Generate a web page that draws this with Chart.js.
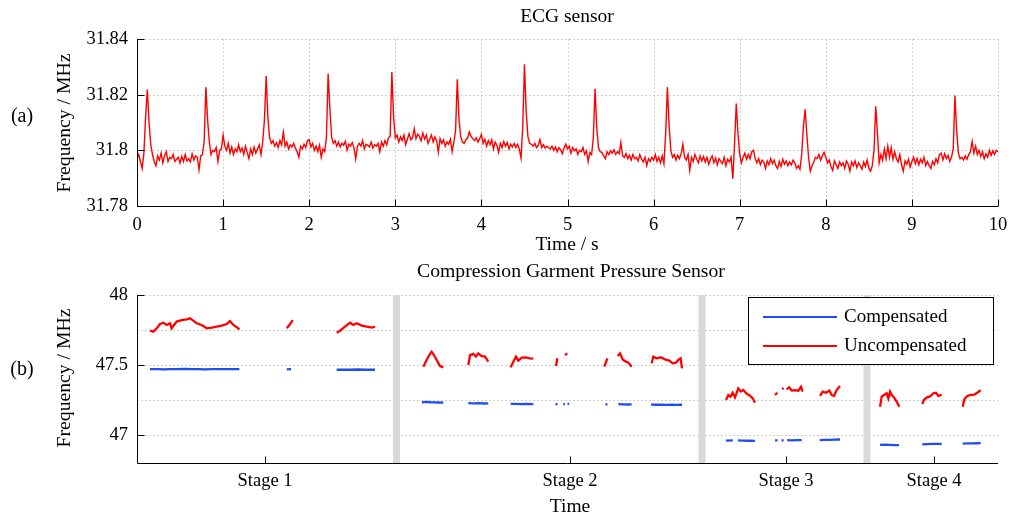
<!DOCTYPE html>
<html>
<head>
<meta charset="utf-8">
<title>ECG sensor / Compression Garment Pressure Sensor</title>
<script src="https://cdn.jsdelivr.net/npm/chart.js@4.4.1/dist/chart.umd.min.js"></script>
<style>
  html, body { margin: 0; padding: 0; background: #fff; }
  #wrap { position: relative; width: 1010px; height: 516px; }
  canvas { position: absolute; left: 0; display: block; }
  #ecgChart { top: 0; }
  #pressChart { top: 258px; }
</style>
</head>
<body>
<div id="wrap">
  <canvas id="ecgChart" width="1010" height="258"></canvas>
  <canvas id="pressChart" width="1010" height="258"></canvas>
</div>
<script>
// ----------------- (a) ECG sensor -----------------
const ecgStep = 0.02; // seconds between samples, starts at t = 0
const ecgMHz = [
  31.797, 31.7985, 31.796, 31.7935, 31.799, 31.812, 31.8218, 31.810, 31.802, 31.7985,
  31.796, 31.7945, 31.798, 31.7965, 31.799, 31.7955, 31.798, 31.7995, 31.796, 31.7975,
  31.797, 31.7985, 31.796, 31.7968, 31.7975, 31.7955, 31.7978, 31.796, 31.7985, 31.7962,
  31.797, 31.7958, 31.7988, 31.7965, 31.798, 31.7975, 31.793, 31.798, 31.7985, 31.803,
  31.8227, 31.811, 31.803, 31.7985, 31.800, 31.7995, 31.801, 31.796, 31.800, 31.8005,
  31.8054, 31.8015, 31.800, 31.8025, 31.799, 31.8012, 31.7985, 31.8005, 31.7995, 31.802,
  31.7995, 31.8008, 31.7985, 31.8015, 31.7992, 31.797, 31.8005, 31.7985, 31.8012, 31.799,
  31.8005, 31.802, 31.7985, 31.803, 31.811, 31.8267, 31.812, 31.8045, 31.8025, 31.8035,
  31.8015, 31.8028, 31.801, 31.8035, 31.802, 31.8065, 31.8015, 31.803, 31.8005, 31.802,
  31.8012, 31.8025, 31.8008, 31.7995, 31.7975, 31.8015, 31.8005, 31.8022, 31.801, 31.8035,
  31.8038, 31.8012, 31.8025, 31.800, 31.8015, 31.7995, 31.8018, 31.7975, 31.8005, 31.7995,
  31.8045, 31.8275, 31.815, 31.8048, 31.8025, 31.8035, 31.8015, 31.803, 31.8012, 31.8025,
  31.8018, 31.8032, 31.800, 31.8022, 31.8015, 31.8028, 31.801, 31.7969, 31.8015, 31.8025,
  31.8015, 31.8035, 31.8005, 31.8022, 31.8018, 31.8012, 31.803, 31.8008, 31.802, 31.8015,
  31.8025, 31.7995, 31.803, 31.8015, 31.8035, 31.802, 31.8045, 31.805, 31.8281, 31.812,
  31.8045, 31.8055, 31.803, 31.8048, 31.8035, 31.8055, 31.802, 31.804, 31.806, 31.8038,
  31.8045, 31.8078, 31.8042, 31.8058, 31.805, 31.8035, 31.8062, 31.804, 31.8055, 31.8025,
  31.804, 31.8055, 31.803, 31.8048, 31.8035, 31.7993, 31.8042, 31.8025, 31.8038, 31.8015,
  31.803, 31.8022, 31.804, 31.7995, 31.803, 31.807, 31.8255, 31.811, 31.8048, 31.803,
  31.8025, 31.8038, 31.8045, 31.8066, 31.805, 31.8042, 31.8035, 31.8045, 31.803, 31.8042,
  31.8057, 31.8025, 31.804, 31.8015, 31.8035, 31.802, 31.8038, 31.8005, 31.803, 31.8018,
  31.7993, 31.8025, 31.801, 31.8032, 31.8015, 31.8028, 31.8005, 31.8022, 31.8012, 31.8025,
  31.801, 31.8022, 31.8005, 31.7972, 31.808, 31.8309, 31.814, 31.805, 31.8025, 31.8022,
  31.8015, 31.8025, 31.801, 31.8018, 31.8039, 31.801, 31.802, 31.8008, 31.8015, 31.801,
  31.8005, 31.8015, 31.800, 31.8012, 31.7995, 31.801, 31.8002, 31.7988, 31.8008, 31.8022,
  31.8005, 31.8015, 31.799, 31.801, 31.7998, 31.8005, 31.7985, 31.800, 31.7995, 31.801,
  31.7985, 31.7998, 31.796, 31.7992, 31.7985, 31.8045, 31.8221, 31.808, 31.801, 31.7995,
  31.7992, 31.798, 31.797, 31.7995, 31.7985, 31.7998, 31.799, 31.8002, 31.7985, 31.7995,
  31.7988, 31.8028, 31.798, 31.7975, 31.7988, 31.797, 31.7982, 31.7965, 31.7985, 31.797,
  31.7975, 31.7962, 31.7985, 31.7968, 31.7958, 31.7975, 31.7945, 31.797, 31.796, 31.7975,
  31.7965, 31.7985, 31.796, 31.7975, 31.7955, 31.798, 31.7952, 31.806, 31.8227, 31.809,
  31.800, 31.7975, 31.7985, 31.7965, 31.7982, 31.797, 31.7988, 31.8022, 31.7975, 31.7965,
  31.7985, 31.7928, 31.7975, 31.796, 31.7985, 31.797, 31.7955, 31.798, 31.7962, 31.7978,
  31.7958, 31.7975, 31.795, 31.7968, 31.798, 31.7955, 31.7972, 31.7948, 31.797, 31.796,
  31.7952, 31.7975, 31.7945, 31.7968, 31.7958, 31.7975, 31.7898, 31.802, 31.8168, 31.806,
  31.7985, 31.7955, 31.7975, 31.799, 31.7968, 31.7985, 31.797, 31.7995, 31.800, 31.797,
  31.7955, 31.797, 31.7948, 31.7965, 31.7958, 31.7935, 31.7962, 31.7948, 31.797, 31.7952,
  31.7965, 31.7945, 31.7935, 31.796, 31.7942, 31.7968, 31.795, 31.7962, 31.7945, 31.7958,
  31.7948, 31.7965, 31.7955, 31.7935, 31.7945, 31.7932, 31.7985, 31.8085, 31.8147, 31.8055,
  31.7975, 31.7925, 31.7945, 31.7958, 31.7975, 31.797, 31.7985, 31.7965, 31.798, 31.7993,
  31.7975, 31.7955, 31.7965, 31.7942, 31.7928, 31.7962, 31.7948, 31.7935, 31.7958, 31.7945,
  31.7955, 31.7935, 31.7962, 31.795, 31.7925, 31.7958, 31.7945, 31.7962, 31.7938, 31.7955,
  31.7945, 31.7932, 31.7958, 31.7942, 31.7965, 31.7935, 31.7925, 31.7945, 31.800, 31.8158,
  31.806, 31.7955, 31.7985, 31.7965, 31.8005, 31.797, 31.8015, 31.7975, 31.801, 31.7968,
  31.7995, 31.797, 31.7958, 31.7985, 31.7948, 31.7925, 31.7962, 31.795, 31.7968, 31.794,
  31.796, 31.7975, 31.7952, 31.797, 31.7948, 31.7968, 31.7955, 31.7975, 31.7945, 31.796,
  31.7945, 31.7935, 31.796, 31.7948, 31.797, 31.7955, 31.7985, 31.799, 31.7965, 31.7988,
  31.797, 31.7982, 31.796, 31.7975, 31.8005, 31.8197, 31.807, 31.799, 31.797, 31.7975,
  31.7965, 31.798, 31.7968, 31.7985, 31.7995, 31.8032, 31.799, 31.8015, 31.7985, 31.800,
  31.7978, 31.7995, 31.797, 31.7988, 31.7975, 31.800, 31.7982, 31.7998, 31.7985, 31.800,
  31.7995
];
const ecgXTicks = [0, 1, 2, 3, 4, 5, 6, 7, 8, 9, 10];
const ecgYTicks = [31.78, 31.8, 31.82, 31.84];

// ----------------- (b) pressure sensor -----------------
// time axis is unitless (0..100), null = no reading
const uncompTime = [
  1.51, 1.90, 2.29, 2.67, 3.06, 3.45, 3.83, 4.03, 4.30, 4.61, 5.19, 5.77, 6.16, 6.54, 6.93, 7.51, 8.09, 8.68, 9.26, 9.83, 10.42, 10.80, 11.19, 11.65, 11.89, 14,
  17.4, 17.7, 18.1, 20,
  23.19, 23.58, 24.16, 24.74, 25.12, 25.51, 26.10, 26.68, 27.26, 27.64, 31,
  33.26, 33.64, 33.95, 34.22, 34.49, 34.80, 35.19, 35.58, 37,
  38.48, 38.68, 39.06, 39.37, 39.64, 40.03, 40.42, 40.80, 42,
  43.40, 43.71, 44.02, 44.29, 44.68, 45.18, 45.64, 46.03, 47,
  48.66, 48.82, 49.3, 49.71, 49.98, 52,
  54.28, 54.63, 55.2, 55.83, 56.10, 56.41, 56.79, 57.07, 57.45, 58.5,
  59.78, 59.97, 60.36, 60.82, 61.32, 61.82, 62.21, 62.60, 62.91, 63.14, 63.30, 66,
  68.41, 68.68, 68.95, 69.18, 69.45, 69.84, 70.12, 70.42, 70.81, 71.20, 71.51, 71.78, 73,
  74.10, 74.37, 74.7, 74.92, 75.02, 75.2, 75.46, 75.76, 76.04, 76.42, 76.81, 77.12, 77.31, 78.5,
  79.33, 79.64, 80.02, 80.41, 80.68, 80.95, 81.26, 81.65, 84,
  86.30, 86.49, 86.76, 87.07, 87.26, 87.46, 87.65, 87.92, 88.23, 88.54, 90,
  91.21, 91.44, 91.79, 92.18, 92.49, 92.80, 93.07, 93.46, 95,
  95.90, 96.09, 96.44, 96.83, 97.21, 97.60, 97.99
];
const uncompMHz = [
  47.745, 47.738, 47.762, 47.793, 47.802, 47.786, 47.798, 47.762, 47.786, 47.810, 47.821, 47.826, 47.833, 47.817, 47.798, 47.786, 47.762, 47.767, 47.774, 47.781, 47.793, 47.814, 47.786, 47.767, 47.755, null,
  47.762, 47.786, 47.821, null,
  47.731, 47.745, 47.774, 47.802, 47.786, 47.798, 47.781, 47.774, 47.767, 47.774, null,
  47.488, 47.536, 47.571, 47.595, 47.571, 47.536, 47.493, 47.483, null,
  47.500, 47.571, 47.579, 47.560, 47.583, 47.564, 47.560, 47.524, null,
  47.483, 47.524, 47.560, 47.531, 47.552, 47.555, 47.548, 47.545, null,
  47.493, 47.548, null, 47.571, 47.583, null,
  47.488, 47.548, null, 47.564, 47.583, 47.540, 47.524, 47.517, 47.488, null,
  47.512, 47.560, 47.548, 47.555, 47.540, 47.531, 47.512, 47.517, 47.540, 47.548, 47.476, null,
  47.250, 47.286, 47.274, 47.302, 47.269, 47.333, 47.310, 47.321, 47.295, 47.281, 47.262, 47.231, null,
  47.286, 47.302, null, 47.333, 47.336, null, 47.326, 47.340, 47.317, 47.321, 47.317, 47.345, 47.310, null,
  47.279, 47.310, 47.302, 47.317, 47.286, 47.279, 47.321, 47.350, null,
  47.202, 47.274, 47.286, 47.298, 47.262, 47.310, 47.286, 47.269, 47.238, 47.202, null,
  47.221, 47.255, 47.269, 47.279, 47.298, 47.302, 47.279, 47.286, null,
  47.202, 47.255, 47.279, 47.286, 47.288, 47.302, 47.321
];
const compTime = [
  1.51, 2.3, 3.1, 3.9, 4.7, 5.5, 6.3, 7.1, 7.9, 8.7, 9.5, 10.3, 11.1, 11.89, 14,
  17.4, 17.9, 20,
  23.19, 24.0, 24.8, 25.6, 26.4, 27.2, 27.64, 31,
  33.1, 33.6, 34.1, 34.6, 35.1, 35.58, 37,
  38.48, 39.1, 39.7, 40.3, 40.8, 42,
  43.40, 44.0, 44.6, 45.2, 45.8, 46.03, 47,
  48.6, 48.85, 49.2, 49.5, 49.7, 49.85, 50.0, 50.2, 52,
  54.4, 54.65, 55.2, 55.9, 56.5, 57.1, 57.45, 58.5,
  59.7, 60.3, 60.9, 61.5, 62.1, 62.7, 63.3, 66,
  68.4, 69.2, 69.5, 69.8, 70.4, 71.0, 71.78, 73,
  74.1, 74.4, 74.65, 74.85, 75.1, 75.3, 75.5, 76.0, 76.6, 77.2, 78.5,
  79.3, 79.9, 80.5, 81.1, 81.65, 84,
  86.3, 86.9, 87.5, 88.0, 88.5, 90,
  91.2, 91.8, 92.4, 93.0, 93.46, 95,
  95.9, 96.5, 97.1, 97.6, 97.99
];
const compMHz = [
  47.470, 47.471, 47.469, 47.471, 47.470, 47.472, 47.470, 47.471, 47.469, 47.471, 47.470, 47.471, 47.470, 47.471, null,
  47.468, 47.471, null,
  47.466, 47.467, 47.466, 47.468, 47.466, 47.467, 47.466, null,
  47.234, 47.236, 47.234, 47.233, 47.232, 47.231, null,
  47.227, 47.226, 47.227, 47.225, 47.226, null,
  47.222, 47.223, 47.221, 47.222, 47.221, 47.221, null,
  47.221, 47.221, null, 47.221, 47.221, null, 47.222, 47.222, null,
  47.219, 47.219, null, 47.220, 47.219, 47.218, 47.219, null,
  47.217, 47.216, 47.217, 47.215, 47.216, 47.215, 47.216, null,
  46.960, 46.961, null, 46.961, 46.960, 46.959, 46.958, null,
  46.962, 46.961, null, 46.962, 46.962, null, 46.963, 46.962, 46.964, 46.963, null,
  46.964, 46.965, 46.965, 46.967, 46.968, null,
  46.929, 46.931, 46.930, 46.928, 46.927, null,
  46.933, 46.935, 46.936, 46.937, 46.936, null,
  46.938, 46.940, 46.940, 46.941, 46.942
];
const stageTicks = [14.87, 50.29, 75.38, 92.57];
const stageLabels = ['Stage 1', 'Stage 2', 'Stage 3', 'Stage 4'];
const stageDividers = [30.14, 65.62, 84.78];
const pressYTicks = [47, 47.5, 48];
const pressYGrid = [47, 47.25, 47.5, 47.75, 48];
const pressYRange = [46.8, 48];

const SERIF = '"Liberation Serif", "Times New Roman", serif';
const RED = '#ff0000';
const BLUE = '#1f4ff2';

function seg(ctx, x1, y1, x2, y2){
  ctx.beginPath(); ctx.moveTo(x1, y1); ctx.lineTo(x2, y2); ctx.stroke();
}

// grid, axes, inward ticks, labels and texts (matlab look)
const frame = {
  id: 'frame',
  beforeDatasetsDraw(chart, args, o){
    const {ctx, chartArea: a} = chart;
    const sx = chart.scales.x, sy = chart.scales.y;
    ctx.save();
    ctx.strokeStyle = '#cfcfcf';
    ctx.lineWidth = 1;
    ctx.setLineDash([2, 2]);
    o.xGrid.forEach(v => { const p = Math.round(sx.getPixelForValue(v)) + 0.5; seg(ctx, p, a.top, p, a.bottom); });
    o.yGrid.forEach(v => { const p = Math.round(sy.getPixelForValue(v)) + 0.5; seg(ctx, a.left, p, a.right, p); });
    ctx.restore();
  },
  afterDatasetsDraw(chart, args, o){
    const {ctx, chartArea: a} = chart;
    const sx = chart.scales.x, sy = chart.scales.y;
    const L = Math.round(a.left) + 0.5, B = Math.round(a.bottom) + 0.5;
    ctx.save();
    ctx.strokeStyle = '#000';
    ctx.lineWidth = 1;
    seg(ctx, L, a.top, L, B);
    seg(ctx, L, B, a.right, B);
    o.xTicks.forEach(v => { const p = Math.round(sx.getPixelForValue(v)) + 0.5; seg(ctx, p, B, p, B - 7); });
    o.yTicks.forEach(v => { const p = Math.round(sy.getPixelForValue(v)) + 0.5; seg(ctx, L, p, L + 7, p); });

    ctx.fillStyle = '#000';
    ctx.font = '18.5px ' + SERIF;
    ctx.textBaseline = 'middle';
    ctx.textAlign = 'center';
    o.xTicks.forEach((v, i) => ctx.fillText(o.xLabels[i], sx.getPixelForValue(v), a.bottom + o.xLabelGap));
    ctx.textAlign = 'right';
    o.yTicks.forEach((v, i) => ctx.fillText(o.yLabels[i], a.left - 9, sy.getPixelForValue(v)));

    o.texts.forEach(t => {
      ctx.save();
      ctx.font = t.size + 'px ' + SERIF;
      ctx.textAlign = 'center';
      ctx.translate(t.x, t.y);
      if(t.rot) ctx.rotate(t.rot);
      ctx.fillText(t.text, 0, 0);
      ctx.restore();
    });

    if(o.legend){
      const g = o.legend;
      ctx.fillStyle = '#fff';
      ctx.fillRect(g.left, g.top, g.right - g.left, g.bottom - g.top);
      ctx.strokeStyle = '#000';
      ctx.strokeRect(g.left + 0.5, g.top + 0.5, g.right - g.left, g.bottom - g.top);
      const items = chart.data.datasets.filter(d => d.inLegend);
      ctx.font = '19px ' + SERIF;
      ctx.textAlign = 'left';
      items.forEach((d, i) => {
        const yy = g.firstRow + i * g.rowGap;
        ctx.strokeStyle = d.borderColor;
        ctx.lineWidth = 2;
        seg(ctx, g.lineX1, yy, g.lineX2, yy);
        ctx.fillStyle = '#000';
        ctx.fillText(d.label, g.textX, yy);
      });
    }
    ctx.restore();
  }
};

// ---- chart (a)
const ecgPoints = ecgMHz.map((v, i) => ({x: i * ecgStep, y: v}));
new Chart(document.getElementById('ecgChart'), {
  type: 'line',
  data: { datasets: [{ label: 'ECG', data: ecgPoints, borderColor: RED, borderWidth: 1.4, pointRadius: 0, tension: 0 }] },
  options: {
    responsive: false, animation: false, events: [],
    layout: { padding: { left: 137, right: 12, top: 39, bottom: 52 } },
    plugins: {
      legend: { display: false }, tooltip: { enabled: false },
      frame: {
        xGrid: ecgXTicks, yGrid: ecgYTicks,
        xTicks: ecgXTicks, xLabels: ecgXTicks.map(String), xLabelGap: 19,
        yTicks: ecgYTicks, yLabels: ecgYTicks.map(String),
        texts: [
          { text: 'ECG sensor', x: 567, y: 17, size: 19.5 },
          { text: 'Time / s', x: 567, y: 245, size: 19.5 },
          { text: 'Frequency / MHz', x: 65, y: 123, size: 19.7, rot: -Math.PI / 2 },
          { text: '(a)', x: 22, y: 117, size: 20 }
        ]
      }
    },
    scales: {
      x: { type: 'linear', display: false, min: 0, max: 10 },
      y: { type: 'linear', display: false, min: 31.78, max: 31.84 }
    }
  },
  plugins: [frame]
});

// ---- chart (b)
const toPts = (xs, ys) => xs.map((x, i) => ({x: x, y: ys[i]}));
const dividerSets = stageDividers.map(x => ({
  label: 'divider', data: [{x: x, y: pressYRange[0]}, {x: x, y: pressYRange[1]}],
  borderColor: '#d9d9d9', borderWidth: 7, pointRadius: 0, order: 10
}));
new Chart(document.getElementById('pressChart'), {
  type: 'line',
  data: {
    datasets: [
      ...dividerSets,
      { label: 'Compensated', inLegend: true, data: toPts(compTime, compMHz), borderColor: BLUE, borderWidth: 2.3, pointRadius: 0, tension: 0, spanGaps: false, order: 1 },
      { label: 'Uncompensated', inLegend: true, data: toPts(uncompTime, uncompMHz), borderColor: RED, borderWidth: 2.3, pointRadius: 0, tension: 0, spanGaps: false, order: 0 }
    ]
  },
  options: {
    responsive: false, animation: false, events: [],
    layout: { padding: { left: 137, right: 12, top: 37, bottom: 53 } },
    plugins: {
      legend: { display: false }, tooltip: { enabled: false },
      frame: {
        xGrid: [], yGrid: pressYGrid,
        xTicks: stageTicks, xLabels: stageLabels, xLabelGap: 18,
        yTicks: pressYTicks, yLabels: pressYTicks.map(String),
        texts: [
          { text: 'Compression Garment Pressure Sensor', x: 571, y: 14, size: 19.7 },
          { text: 'Time', x: 570, y: 249, size: 19.5 },
          { text: 'Frequency / MHz', x: 65, y: 120, size: 19.7, rot: -Math.PI / 2 },
          { text: '(b)', x: 22, y: 112, size: 20 }
        ],
        legend: { left: 748, top: 39, right: 993, bottom: 106, firstRow: 59, rowGap: 29, lineX1: 763, lineX2: 837, textX: 844 }
      }
    },
    scales: {
      x: { type: 'linear', display: false, min: 0, max: 100 },
      y: { type: 'linear', display: false, min: pressYRange[0], max: pressYRange[1] }
    }
  },
  plugins: [frame]
});
</script>
</body>
</html>
